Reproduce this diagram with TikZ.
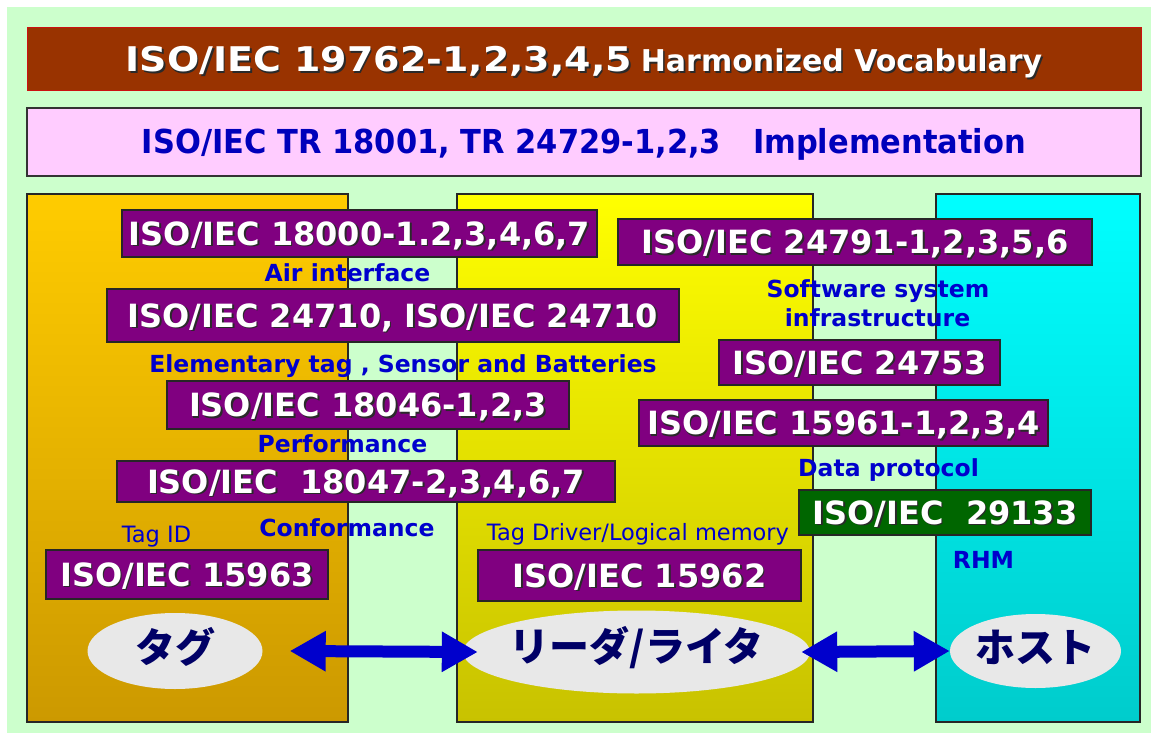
\documentclass[tikz,border=0pt]{standalone}
\usepackage{fontspec}
\usepackage{graphicx}
\setmainfont{DejaVu Sans}
\newfontfamily\jpfont{Noto Sans CJK JP}
\usetikzlibrary{arrows.meta,shapes.geometric}
\definecolor{bggreen}{HTML}{CCFFCC}
\definecolor{bannerbrown}{HTML}{993300}
\definecolor{bannerred}{HTML}{CC1111}
\definecolor{bannerpink}{HTML}{FFCCFF}
\definecolor{pinkborder}{HTML}{333333}
\definecolor{stdpurple}{HTML}{800080}
\definecolor{stdgreen}{HTML}{006600}
\definecolor{lblblue}{HTML}{0000CC}
\definecolor{implblue}{HTML}{0000BB}
\definecolor{arrowblue}{HTML}{0000CC}
\definecolor{ellgray}{HTML}{E8E8E8}
\definecolor{jpnavy}{HTML}{000066}
\definecolor{tagtop}{HTML}{FFCC00}
\definecolor{tagbot}{HTML}{CC9900}
\definecolor{rwtop}{HTML}{FFFF00}
\definecolor{rwbot}{HTML}{C8C200}
\definecolor{hosttop}{HTML}{00FFFF}
\definecolor{hostbot}{HTML}{00CCCC}
\definecolor{shadowc}{HTML}{2A2A2A}
\newcommand{\shtext}[1]{\makebox[0pt][l]{\hspace*{1.6pt}\raisebox{-1.6pt}{\color{shadowc}#1}}{\color{white}#1}}
\tikzset{
  colbox/.style={draw=black!85, line width=1.3pt, inner sep=0pt},
  stdbox/.style={draw=black!85, line width=1.2pt, fill=stdpurple, inner sep=0pt,
    font=\fontsize{32}{32}\selectfont\bfseries, text height=23.4pt, text depth=0pt},
  lbl/.style={text=lblblue, font=\fontsize{23.5}{23.5}\selectfont\bfseries, inner sep=0pt,
    text height=17pt, text depth=0pt},
  lblreg/.style={text=lblblue, font=\fontsize{22.5}{22.5}\selectfont, inner sep=0pt,
    text height=16.4pt, text depth=0pt},
  ell/.style={ellipse, fill=ellgray, draw=none, inner sep=0pt},
  jpt/.style={font=\jpfont\bfseries\fontsize{40}{40}\selectfont, text=jpnavy, inner sep=0pt},
  bigarrow/.style={draw=arrowblue, line width=12pt,
    {Triangle[length=36pt,width=38pt]}-{Triangle[length=36pt,width=38pt]}},
}
\begin{document}
\begin{tikzpicture}[x=1pt,y=-1pt]
\useasboundingbox (0,0) rectangle (1153,735);
\fill[white] (0,0) rectangle (1153,735);
\node[fill=bggreen, inner sep=0pt, minimum width=1144pt, minimum height=726pt] (bg) at (579,370) {};

% banners
\node[draw=bannerred, line width=1pt, fill=bannerbrown, inner sep=0pt,
  minimum width=1114pt, minimum height=63pt, font=\bfseries,
  text height=24.8pt, text depth=0pt] (vocab) at (584,59.5)
  {\shtext{\scalebox{1.116}[1]{\fontsize{34}{34}\selectfont ISO/IEC 19762-1,2,3,4,5}}\hspace{9pt}\shtext{\fontsize{30}{30}\selectfont Harmonized Vocabulary}};
\node[draw=pinkborder, line width=1.3pt, fill=bannerpink, inner sep=0pt,
  minimum width=1114pt, minimum height=68pt, text=implblue,
  text height=24pt, text depth=0pt] (impl) at (584,142)
  {\scalebox{0.924}[1]{\fontsize{33}{33}\selectfont\bfseries ISO/IEC TR 18001, TR 24729-1,2,3\ \ \ Implementation}};

% columns
\node[colbox, top color=tagtop, bottom color=tagbot, minimum width=321pt, minimum height=528pt] (tagcol) at (187.5,458) {};
\node[colbox, top color=rwtop, bottom color=rwbot, minimum width=356pt, minimum height=528pt] (rwcol) at (635,458) {};
\node[colbox, top color=hosttop, bottom color=hostbot, minimum width=204pt, minimum height=528pt] (hostcol) at (1038,458) {};

% standard boxes
\node[stdbox, minimum width=475pt, minimum height=47pt] (b18000) at (359.5,233.5) {\shtext{ISO/IEC 18000-1.2,3,4,6,7}};
\node[stdbox, minimum width=474pt, minimum height=46pt] (b24791) at (855,242) {\shtext{ISO/IEC 24791-1,2,3,5,6}};
\node[stdbox, minimum width=572pt, minimum height=53pt] (b24710) at (393,315.5) {\shtext{ISO/IEC 24710, ISO/IEC 24710}};
\node[stdbox, minimum width=281pt, minimum height=45pt] (b24753) at (859.5,362.5) {\shtext{ISO/IEC 24753}};
\node[stdbox, minimum width=402pt, minimum height=48pt] (b18046) at (368,405) {\shtext{ISO/IEC 18046-1,2,3}};
\node[stdbox, minimum width=409pt, minimum height=46pt] (b15961) at (843.5,423) {\shtext{ISO/IEC 15961-1,2,3,4}};
\node[stdbox, minimum width=498pt, minimum height=41pt] (b18047) at (366,481.5) {\shtext{ISO/IEC\ \ 18047-2,3,4,6,7}};
\node[stdbox, fill=stdgreen, minimum width=292pt, minimum height=45pt] (b29133) at (945,512.5) {\shtext{ISO/IEC\ \ 29133}};
\node[stdbox, minimum width=282pt, minimum height=49pt] (b15963) at (187,574.5) {\shtext{ISO/IEC 15963}};
\node[stdbox, minimum width=323pt, minimum height=51pt] (b15962) at (639.5,575.5) {\shtext{ISO/IEC 15962}};

% labels
\node[lbl] (lair) at (347.5,273) {Air interface};
\node[lbl] (lelem) at (403,364) {Elementary tag , Sensor and Batteries};
\node[lbl] (lperf) at (342.5,443.5) {Performance};
\node[lbl] (lconf) at (347,527.5) {Conformance};
\node[lblreg] (ltagid) at (156.5,534.5) {Tag ID};
\node[lblreg] (ldriver) at (638,532) {Tag Driver/Logical memory};
\node[lbl] (lsw1) at (878,289.5) {Software system};
\node[lbl] (lsw2) at (877.5,317.5) {infrastructure};
\node[lbl] (ldata) at (888.5,467.5) {Data protocol};
\node[lbl] (lrhm) at (983.5,560) {RHM};

% ellipses
\node[ell, minimum width=175pt, minimum height=76pt] (tag) at (175,651) {};
\node[ell, minimum width=347pt, minimum height=83pt] (rw) at (636.5,652) {};
\node[ell, minimum width=171pt, minimum height=74pt] (host) at (1035.5,651) {};
\node[jpt] (tagt) at ([yshift=4pt]tag.center) {タグ};
\node[jpt] (rwt) at ([yshift=4pt]rw.center) {リーダ/ライタ};
\node[jpt] (hostt) at ([yshift=4pt]host.center) {ホスト};

% arrows
\draw[bigarrow] ([xshift=27pt]tag.east) -- ([xshift=15pt]rw.west);
\draw[bigarrow] ([xshift=-9pt]rw.east) -- (host.west);
\end{tikzpicture}
\end{document}
